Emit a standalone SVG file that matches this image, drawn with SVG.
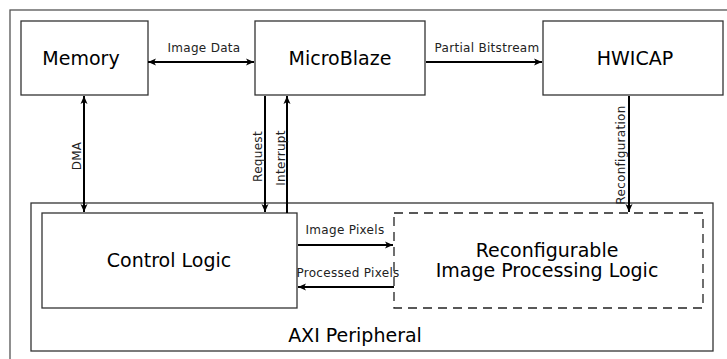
<svg xmlns="http://www.w3.org/2000/svg" width="727" height="359" viewBox="0 0 727 359">
<style>
.box{fill:#fff;stroke:#333;stroke-width:1.3}
.frame{fill:#fff;stroke:#555;stroke-width:1.3}
.dash{fill:none;stroke:#222;stroke-width:1.3;stroke-dasharray:9,6}
.big{font-family:"DejaVu Sans",sans-serif;font-size:19px;fill:#000;text-anchor:middle}
.sm{font-family:"DejaVu Sans",sans-serif;font-size:12px;letter-spacing:0.3px;fill:#222;text-anchor:middle}
.c{fill:none;stroke:#000;stroke-width:2}
</style>
<defs>
<marker id="ae" markerUnits="userSpaceOnUse" markerWidth="12" markerHeight="10" viewBox="-9 -5 10 10" refX="0" refY="0" orient="auto">
<path d="M0,0 L-8,-3.5 L-6,0 L-8,3.5 Z" fill="#000"/>
</marker>
<marker id="as" markerUnits="userSpaceOnUse" markerWidth="12" markerHeight="10" viewBox="-1 -5 10 10" refX="0" refY="0" orient="auto">
<path d="M0,0 L8,-3.5 L6,0 L8,3.5 Z" fill="#000"/>
</marker>
</defs>
<rect class="frame" x="10" y="10" width="730" height="360"/>
<g id="axi">
<rect class="box" x="31" y="203" width="682" height="148"/>
<text class="big" x="355" y="342">AXI Peripheral</text>
</g>
<g id="memory">
<rect class="box" x="21" y="21" width="127" height="74"/>
<text class="big" x="81" y="65">Memory</text>
</g>
<g id="microblaze">
<rect class="box" x="255" y="21" width="170" height="74"/>
<text class="big" x="340" y="65">MicroBlaze</text>
</g>
<g id="hwicap">
<rect class="box" x="543" y="21" width="180" height="74"/>
<text class="big" x="635" y="65">HWICAP</text>
</g>
<g id="control">
<rect class="box" x="42" y="213" width="255" height="95"/>
<text class="big" x="169" y="267">Control Logic</text>
</g>
<g id="reconfig">
<rect class="dash" x="394" y="213" width="309" height="95"/>
<text class="big" x="547" y="257">Reconfigurable</text>
<text class="big" x="547" y="277">Image Processing Logic</text>
</g>
<g id="connectors">
<line class="c" x1="148" y1="62" x2="254" y2="62" marker-start="url(#as)" marker-end="url(#ae)"/>
<text class="sm" x="204" y="52">Image Data</text>
<line class="c" x1="426" y1="62" x2="542" y2="62" marker-end="url(#ae)"/>
<text class="sm" x="487" y="52">Partial Bitstream</text>
<line class="c" x1="84" y1="96" x2="84" y2="212" marker-start="url(#as)" marker-end="url(#ae)"/>
<text class="sm" transform="translate(81,156) rotate(-90)">DMA</text>
<line class="c" x1="265" y1="96" x2="265" y2="212" marker-end="url(#ae)"/>
<text class="sm" transform="translate(261.5,156.5) rotate(-90)">Request</text>
<line class="c" x1="287" y1="213" x2="287" y2="96" marker-end="url(#ae)"/>
<text class="sm" transform="translate(285,158) rotate(-90)">Interrupt</text>
<line class="c" x1="629" y1="96" x2="629" y2="212" marker-end="url(#ae)"/>
<text class="sm" transform="translate(624.5,155) rotate(-90)">Reconfiguration</text>
<line class="c" x1="298" y1="245" x2="393" y2="245" marker-end="url(#ae)"/>
<text class="sm" x="345" y="234">Image Pixels</text>
<line class="c" x1="394" y1="287" x2="298" y2="287" marker-end="url(#ae)"/>
<text class="sm" x="348" y="277">Processed Pixels</text>
</g>
</svg>
